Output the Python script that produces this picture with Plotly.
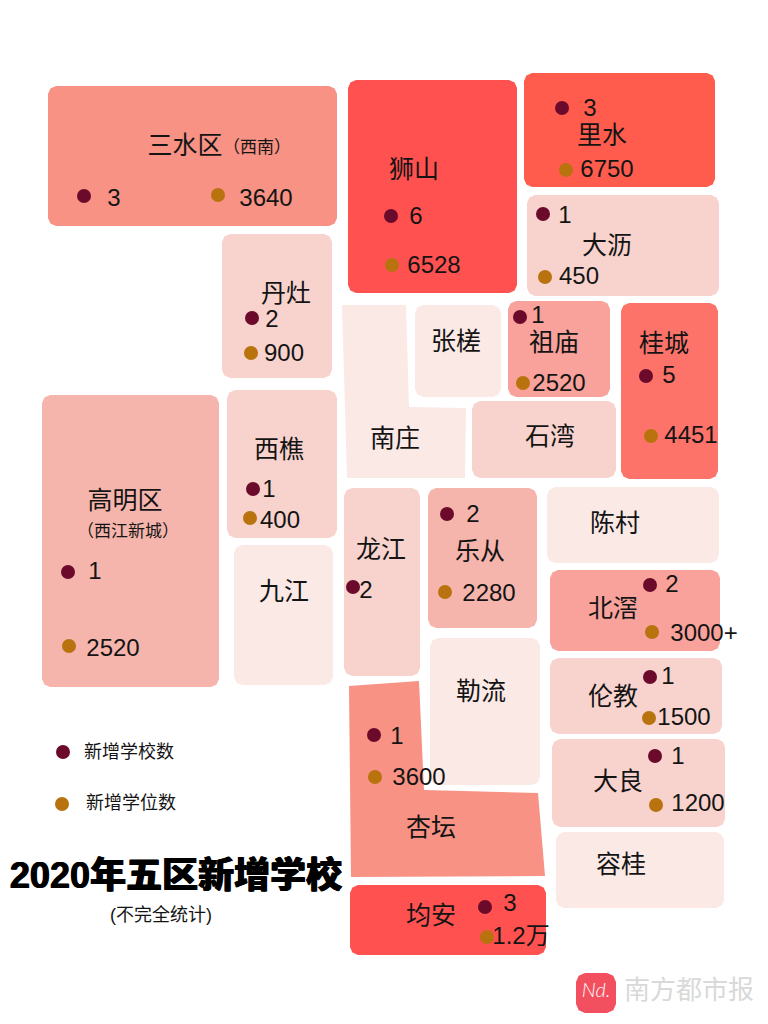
"""
2020年五区新增学校 - mappa a blocchi dei comuni, ricostruita in coordinate pixel 768x1024.
"""

import plotly.graph_objects as go

# ==========================================================
# DATA
# ==========================================================

TOWNS = ["三水区", "狮山", "里水", "大沥", "丹灶", "西樵", "九江", "高明区", "张槎", "祖庙", "石湾",
         "桂城", "陈村", "龙江", "乐从", "北滘", "勒流", "伦教", "大良", "容桂", "均安", "南庄", "杏坛"]

# nuove scuole / nuovi posti (etichette come da figura)
NEW_SCHOOLS = {"三水区": "3", "狮山": "6", "里水": "3", "大沥": "1", "丹灶": "2", "西樵": "1",
               "高明区": "1", "祖庙": "1", "桂城": "5", "龙江": "2", "乐从": "2", "北滘": "2",
               "伦教": "1", "大良": "1", "均安": "3", "杏坛": "1"}
NEW_PLACES = {"三水区": "3640", "狮山": "6528", "里水": "6750", "大沥": "450", "丹灶": "900", "西樵": "400",
              "高明区": "2520", "祖庙": "2520", "桂城": "4451", "乐从": "2280", "北滘": "3000+",
              "伦教": "1500", "大良": "1200", "均安": "1.2万", "杏坛": "3600"}

LEGEND_LABELS = ["新增学校数", "新增学位数"]
TITLE = "2020年五区新增学校"
SUBTITLE = "(不完全统计)"
SOURCE = "南方都市报"

# ==========================================================
# LAYOUT TABLES (pixel)
# ==========================================================

TOWN_BOXES = {
    "三水区": (48, 86, 337, 226), "狮山": (348, 80, 517, 293), "里水": (524, 73, 715, 187),
    "大沥": (527, 195, 719, 296), "丹灶": (222, 234, 332, 378), "西樵": (227, 390, 337, 538),
    "九江": (234, 545, 333, 685), "高明区": (42, 395, 219, 687), "张槎": (415, 305, 501, 397),
    "祖庙": (508, 301, 610, 397), "石湾": (472, 401, 616, 478), "桂城": (621, 303, 718, 479),
    "陈村": (547, 487, 719, 563), "龙江": (344, 488, 420, 676), "乐从": (428, 488, 537, 628),
    "北滘": (550, 570, 720, 651), "勒流": (430, 638, 540, 785), "伦教": (550, 658, 722, 734),
    "大良": (552, 739, 725, 827), "容桂": (556, 832, 724, 908), "均安": (350, 885, 546, 955),
}
TOWN_OUTLINES = {
    "南庄": [(342, 305), (406, 305), (409, 407), (466, 408), (465, 478), (347, 478)],
    "杏坛": [(349, 686), (419, 681), (424, 790), (538, 793), (545, 876), (351, 877)],
}

DEEP = "#FF5150"
TOWN_COLORS = {
    "三水区": "#F79284", "狮山": DEEP, "里水": "#FF5C4D", "大沥": "#F8D3CE", "丹灶": "#F8D3CE",
    "西樵": "#F8D3CE", "九江": "#FBE9E6", "高明区": "#F6B5AC", "张槎": "#FBE9E6", "祖庙": "#F8A29B",
    "石湾": "#F8D3CE", "桂城": "#FD736A", "陈村": "#FBE9E6", "龙江": "#F8D3CE", "乐从": "#F6B5AC",
    "北滘": "#F8A29B", "勒流": "#FBE9E6", "伦教": "#F8D3CE", "大良": "#F8D3CE", "容桂": "#FBE9E6",
    "均安": DEEP, "南庄": "#FBE9E6", "杏坛": "#F79284",
}

NAME_POS = {
    "三水区": (185, 145), "狮山": (414, 169), "里水": (602, 135), "大沥": (607, 245), "丹灶": (286, 293),
    "西樵": (279, 449), "九江": (284, 591), "高明区": (125, 500), "张槎": (456, 341), "祖庙": (554, 342),
    "石湾": (550, 436), "桂城": (664, 343), "陈村": (615, 523), "龙江": (381, 549), "乐从": (480, 551),
    "北滘": (613, 608), "勒流": (481, 691), "伦教": (613, 696), "大良": (618, 781), "容桂": (621, 864),
    "均安": (431, 915), "南庄": (395, 438), "杏坛": (431, 827),
}

# (x punto, y punto, x testo, y testo)
SCHOOL_POS = {
    "三水区": (84, 196, 114, 197), "狮山": (391, 216, 416, 215), "里水": (562, 108, 590, 107),
    "大沥": (543, 214, 565, 214), "丹灶": (252, 318, 272, 318), "西樵": (253, 489, 269, 488),
    "高明区": (68, 572, 95, 570), "祖庙": (520, 317, 538, 314), "桂城": (646, 376, 669, 374),
    "龙江": (353, 587, 366, 589), "乐从": (447, 514, 473, 513), "北滘": (650, 585, 672, 583),
    "伦教": (650, 677, 668, 675), "大良": (655, 756, 678, 755), "均安": (485, 907, 510, 902),
    "杏坛": (374, 735, 397, 735),
}
PLACE_POS = {
    "三水区": (218, 195, 266, 197), "狮山": (392, 265, 434, 264), "里水": (566, 170, 607, 168),
    "大沥": (545, 277, 579, 275), "丹灶": (251, 353, 284, 352), "西樵": (250, 518, 280, 519),
    "高明区": (69, 646, 113, 647), "祖庙": (523, 383, 559, 382), "桂城": (651, 436, 691, 434),
    "乐从": (445, 592, 489, 592), "北滘": (652, 632, 704, 632), "伦教": (649, 718, 684, 716),
    "大良": (656, 805, 698, 802), "均安": (487, 937, 521, 935), "杏坛": (375, 777, 419, 776),
}

SCHOOL_COLOR = "#6B0A2B"
PLACE_COLOR = "#B8730F"
INK = "#141414"
FONT = "Liberation Sans, Noto Sans CJK SC, sans-serif"


def rounded_box(x0, y0, x1, y1, r=8):
    """Contorno di un rettangolo con angoli smussati."""
    k = r * 0.3
    xs = [x0 + r, x1 - r, x1 - k, x1, x1, x1 - k, x1 - r, x0 + r, x0 + k, x0, x0, x0 + k, x0 + r]
    ys = [y0, y0, y0 + k, y0 + r, y1 - r, y1 - k, y1, y1, y1 - k, y1 - r, y0 + r, y0 + k, y0]
    return xs, ys


def add_text(fig, x, y, text, size=24, color=INK, weight="normal", shadow="none", style="normal", family=FONT):
    # +3: il testo di plotly cade un po' sopra il centro rispetto al riferimento
    fig.add_trace(go.Scatter(
        x=[x], y=[y + 3], mode="text", text=[text], textposition="middle center",
        textfont=dict(family=family, size=size, color=color, weight=weight, shadow=shadow, style=style),
        hoverinfo="skip",
    ))


fig = go.Figure()

# 1. Blocchi dei comuni
for town in TOWNS:
    if town in TOWN_BOXES:
        xs, ys = rounded_box(*TOWN_BOXES[town])
    else:
        pts = TOWN_OUTLINES[town] + TOWN_OUTLINES[town][:1]
        xs, ys = [p[0] for p in pts], [p[1] for p in pts]
    fig.add_trace(go.Scatter(
        x=xs, y=ys, mode="lines", fill="toself", fillcolor=TOWN_COLORS[town],
        line=dict(width=0, color=TOWN_COLORS[town]), name=town, hoverinfo="name",
    ))

# 2. Nomi
for town in TOWNS:
    add_text(fig, *NAME_POS[town], town, size=25)
add_text(fig, 257, 146, "（西南）", size=17)
add_text(fig, 128, 530, "（西江新城）", size=17)

# 3. Punti e valori
for values, positions, color in [(NEW_SCHOOLS, SCHOOL_POS, SCHOOL_COLOR), (NEW_PLACES, PLACE_POS, PLACE_COLOR)]:
    towns = list(values)
    fig.add_trace(go.Scatter(
        x=[positions[t][0] for t in towns], y=[positions[t][1] for t in towns],
        mode="markers", marker=dict(size=14, color=color), hoverinfo="skip",
    ))
    for t in towns:
        add_text(fig, positions[t][2], positions[t][3], values[t])

# 4. Legenda manuale
fig.add_trace(go.Scatter(x=[63], y=[752], mode="markers", marker=dict(size=14, color=SCHOOL_COLOR), hoverinfo="skip"))
fig.add_trace(go.Scatter(x=[62], y=[804], mode="markers", marker=dict(size=14, color=PLACE_COLOR), hoverinfo="skip"))
add_text(fig, 129, 750, LEGEND_LABELS[0], size=18)
add_text(fig, 131, 801, LEGEND_LABELS[1], size=18)

# 5. Titolo
add_text(fig, 176, 876, TITLE, size=36, color="#000000", weight=900,
         shadow="0.6px 0 0 #000, -0.6px 0 0 #000")
add_text(fig, 161, 913, SUBTITLE, size=18)

# 6. Marchio
xs, ys = rounded_box(576, 973, 616, 1013, r=9)
fig.add_trace(go.Scatter(x=xs, y=ys, mode="lines", fill="toself", fillcolor="#F2505F",
                         line=dict(width=0, color="#F2505F"), hoverinfo="skip"))
add_text(fig, 596, 989, "Nd.", size=20, color="#FFFFFF", style="italic", weight=300, family="Lato, sans-serif")
add_text(fig, 689, 989, SOURCE, size=26, color="#D9D9D9")

fig.update_layout(
    width=768, height=1024,
    margin=dict(l=0, r=0, t=0, b=0),
    paper_bgcolor="#FFFFFF", plot_bgcolor="#FFFFFF",
    showlegend=False,
    xaxis=dict(range=[0, 768], visible=False, fixedrange=True),
    yaxis=dict(range=[1024, 0], visible=False, fixedrange=True),
)

fig.write_html("out.html", config=dict(displayModeBar=False),
               post_script="document.body.style.margin='0';document.body.style.overflow='hidden';")
